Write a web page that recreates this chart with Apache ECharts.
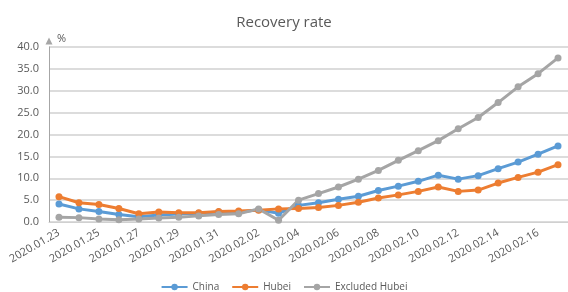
<!DOCTYPE html>
<html>
<head>
<meta charset="utf-8">
<script src="https://cdn.jsdelivr.net/npm/echarts@6/dist/echarts.min.js"></script>
<style>html,body{margin:0;padding:0;background:#fff}#c{width:568px;height:292px}</style>
</head>
<body>
<div id="c"></div>
<script>
var categories = ['2020.01.23','2020.01.24','2020.01.25','2020.01.26','2020.01.27','2020.01.28','2020.01.29','2020.01.30','2020.01.31','2020.02.01','2020.02.02','2020.02.03','2020.02.04','2020.02.05','2020.02.06','2020.02.07','2020.02.08','2020.02.09','2020.02.10','2020.02.11','2020.02.12','2020.02.13','2020.02.14','2020.02.15','2020.02.16','2020.02.17'];
var china = [4.1,3.0,2.4,1.7,1.2,1.6,1.8,2.0,2.3,2.2,2.8,2.0,3.8,4.4,5.2,5.9,7.2,8.2,9.3,10.7,9.8,10.6,12.2,13.7,15.5,17.4];
var hubei = [5.8,4.4,4.0,3.1,1.9,2.3,2.1,2.1,2.4,2.5,2.7,3.0,3.1,3.3,3.8,4.5,5.5,6.2,7.0,8.0,7.0,7.3,8.9,10.2,11.4,13.1];
var excluded = [1.1,1.0,0.7,0.5,0.7,0.9,1.1,1.4,1.7,1.9,3.0,0.4,5.0,6.5,8.0,9.8,11.8,14.1,16.3,18.6,21.3,23.9,27.3,30.9,33.9,37.5];
var yTicks = {min: 0, max: 40, interval: 5};

var chart = echarts.init(document.getElementById('c'));
var txt = '#595959';
function mk(name, data, color) {
  return {
    name: name, type: 'line', data: data,
    symbol: 'circle', symbolSize: 7,
    lineStyle: {width: 3, color: color},
    itemStyle: {color: color},
    emphasis: {disabled: true}
  };
}
chart.setOption({
  animation: false,
  title: {text: 'Recovery rate', left: 'center', top: 10,
    textStyle: {fontSize: 15, fontWeight: 'normal', color: txt, fontFamily: 'Open Sans'}},
  grid: {left: 49, right: -3, top: 47, bottom: 70},
  legend: {top: 277, left: 'center', itemWidth: 26, itemHeight: 8, itemGap: 12,
    textStyle: {fontSize: 10, color: txt, fontFamily: 'Open Sans'},
    data: ['China','Hubei','Excluded Hubei']},
  xAxis: {type: 'category', data: categories, boundaryGap: true,
    axisLine: {lineStyle: {color: '#d0d0d0', width: 1}},
    axisTick: {show: false},
    axisLabel: {interval: 1, rotate: 30, fontSize: 11, color: txt, fontFamily: 'Open Sans', margin: 10}},
  yAxis: {type: 'value', min: yTicks.min, max: yTicks.max, interval: yTicks.interval,
    name: '%', nameLocation: 'end', nameGap: 3,
    nameTextStyle: {color: txt, fontSize: 11, align: 'left', padding: [0,0,0,8], fontFamily: 'Open Sans'},
    axisLine: {show: true, symbol: ['none','triangle'], symbolSize: [7,7], symbolOffset: [0, 6],
      lineStyle: {color: '#a6a6a6', width: 1}},
    axisTick: {show: false},
    axisLabel: {formatter: function(v){return v.toFixed(1);}, fontSize: 11, color: txt, fontFamily: 'Open Sans', margin: 10},
    splitLine: {lineStyle: {color: '#d0d0d0', width: 1.5}}},
  series: [mk('China', china, '#5B9BD5'), mk('Hubei', hubei, '#ED7D31'), mk('Excluded Hubei', excluded, '#A5A5A5')]
});
</script>
</body>
</html>
